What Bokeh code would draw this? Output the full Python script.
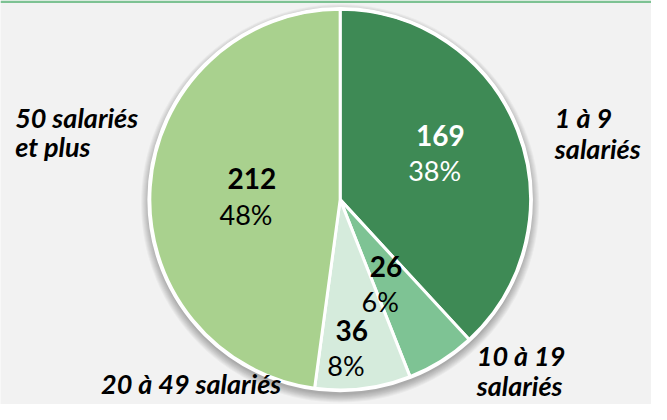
import math
from bokeh.plotting import figure
from bokeh.models import Range1d, ColumnDataSource
from bokeh.core.properties import value
from bokeh.embed import file_html
from bokeh.resources import INLINE

# ---- data ----
categories = ["1 à 9 salariés", "10 à 19 salariés", "20 à 49 salariés", "50 salariés et plus"]
counts = [169, 26, 36, 212]
colors = ["#3e8a55", "#7ec394", "#d5ebdc", "#a9d18e"]
label_colors = ["#ffffff", "#000000", "#000000", "#000000"]

# ---- layout (reference pixel coordinates, 667 x 420) ----
W, H = 651, 404
RW, RH = 667, 420
CX, CY, R = 348, 207, 195
label_r = [0.57, 0.50, 0.79, 0.48]      # label radius as fraction of R
label_nudge = [4.8, -5.3, -3.6, 1.5]    # angular nudge in degrees
FONT = "Lato"
TSHIFT = 10   # compensation for baseline rendering

total = sum(counts)
fracs = [c / total for c in counts]
starts, ends, mids = [], [], []
cum = 0.0
for f in fracs:
    starts.append(math.pi / 2 - 2 * math.pi * cum)
    mids.append(math.pi / 2 - 2 * math.pi * (cum + f / 2))
    cum += f
    ends.append(math.pi / 2 - 2 * math.pi * cum)

p = figure(width=W, height=H, output_backend="svg", toolbar_location=None,
           x_range=Range1d(0, RW), y_range=Range1d(-RH, 0),
           x_axis_type=None, y_axis_type=None, min_border=0,
           background_fill_color="#f2f2f2", border_fill_color="#f2f2f2",
           outline_line_color=None)
p.grid.visible = False

# top accent line
p.quad(left=[0], right=[RW], top=[0], bottom=[-2.5], fill_color="#7dc293", line_color=None)

# soft shadow
for k in range(9):
    p.circle(x=[CX], y=[-(CY + 4)], radius=R + 1 + k, fill_color="black",
             fill_alpha=0.035, line_color=None)

src = ColumnDataSource(dict(cat=categories, count=counts, color=colors,
                            start=starts, end=ends))
p.wedge(x=CX, y=-CY, radius=R, start_angle="start", end_angle="end",
        direction="clock", fill_color="color", line_color="white",
        line_width=3, source=src)
p.circle(x=[CX], y=[-CY], radius=R + 1, fill_color=None, line_color="white", line_width=3)

# value labels
nx, ny, px, py, nums, pcts = [], [], [], [], [], []
for i, c in enumerate(counts):
    a = mids[i] + math.radians(label_nudge[i])
    r = label_r[i] * R
    bx = CX + r * math.cos(a)
    by = -CY + r * math.sin(a)
    nx.append(bx + 3); ny.append(by + 8 + TSHIFT)
    px.append(bx - 3); py.append(by - 29 + TSHIFT)
    nums.append(str(c))
    pcts.append(f"{round(fracs[i] * 100)}%")

p.text(x=nx, y=ny, text=nums, text_color=label_colors, text_font=value(FONT),
       text_font_style="bold", text_font_size="28px", text_align="center",
       text_baseline="alphabetic")
p.text(x=px, y=py, text=pcts, text_color=label_colors, text_font=value(FONT),
       text_font_size="27px", text_align="center", text_baseline="alphabetic")

# category labels
cat_lines = ["1 à 9", "salariés", "50 salariés", "et plus", "10 à 19", "salariés", "20 à 49 salariés"]
cat_x = [568, 568, 15, 15, 488, 488, 103]
cat_y = [132, 164, 132, 162, 379, 410, 408]
p.text(x=cat_x, y=[-v + TSHIFT for v in cat_y], text=cat_lines, text_color="#000000",
       text_font=value(FONT), text_font_style="bold italic", text_font_size="27px",
       text_align="left", text_baseline="alphabetic")

open("out.html", "w").write(file_html(p, INLINE))
